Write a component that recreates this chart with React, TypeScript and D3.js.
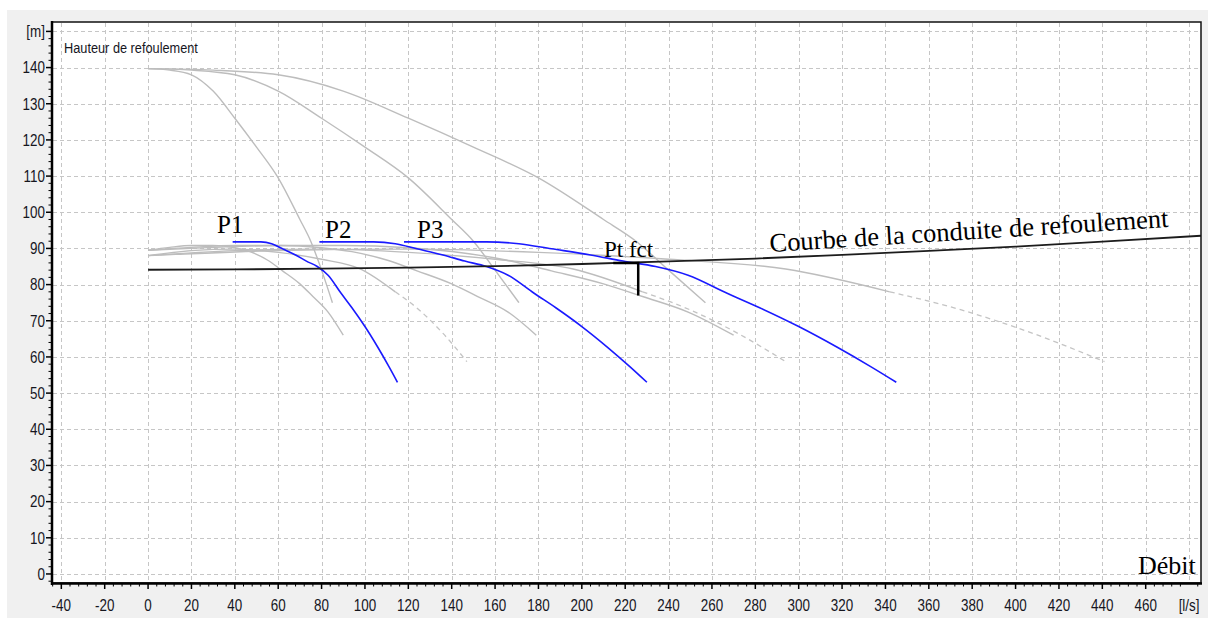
import React, { useEffect, useRef } from 'react';
import * as d3 from 'd3';

// axis ticks (l/s and m)
const xTicks = [-40, -20, 0, 20, 40, 60, 80, 100, 120, 140, 160, 180, 200, 220, 240, 260, 280, 300, 320, 340, 360, 380, 400, 420, 440, 460];
const yTicks = [0, 10, 20, 30, 40, 50, 60, 70, 80, 90, 100, 110, 120, 130, 140];

// grey pump curves [debit, hauteur]
const grayA1 = [[0, 139.7], [10, 139.3], [20, 138], [30, 133.5], [40, 126], [50, 118], [60, 109.5], [70, 98], [75, 92], [80, 84], [85, 75]];
const grayA2 = [[0, 139.7], [20, 139.3], [40, 138], [60, 133.5], [80, 126], [100, 118], [120, 109.5], [140, 98], [150, 92], [160, 84], [171, 75]];
const grayA3 = [[0, 139.7], [30, 139.3], [60, 138], [90, 133.5], [120, 126], [150, 118], [180, 109.5], [210, 98], [225, 92], [240, 84], [257, 75]];
const grayB1 = [[0, 89.5], [10, 90.3], [20, 90.8], [30, 90.8], [40, 90.2], [47, 89.1], [55, 86.8], [62, 83.8], [70, 80.2], [76, 76.7], [83, 72.4], [90, 66]];
const grayB2 = [[0, 89.5], [20, 90.3], [40, 90.8], [60, 90.8], [80, 90.2], [94, 89.1], [110, 86.8], [124, 83.8], [140, 80.2], [152, 76.7], [166, 72.4], [179, 66]];
const grayB3 = [[0, 89.5], [30, 90.3], [60, 90.8], [90, 90.8], [120, 90.2], [141, 89.1], [165, 86.8], [186, 83.8], [210, 80.2], [228, 76.7], [249, 72.4], [270, 66]];
const grayC1 = [[0, 88], [20, 89.4], [40, 89.8], [60, 88.9], [80, 87], [98, 84.3], [114, 78]];
const grayC2 = [[0, 88], [40, 89.4], [80, 89.8], [120, 88.9], [160, 87], [196, 84.3], [228, 78]];
const grayC3 = [[0, 88], [60, 89.4], [120, 89.8], [180, 88.9], [240, 87], [294, 84.3], [342, 78]];
// dashed extensions
const grayC1Ext = [[114, 78], [125, 73], [136, 66.5], [147, 58.7]];
const grayC2Ext = [[228, 78], [250, 73], [272, 66.5], [294, 58.7]];
const grayC3Ext = [[342, 78], [375, 73], [408, 66.5], [441, 58.7]];

// blue curves: 1, 2, 3 pumps
const pump1 = [[39, 91.8], [52, 91.8], [57, 91.3], [62, 89.9], [68, 88.2], [73, 86.5], [78, 85.0], [83, 82.6], [89, 77.6], [94, 73.6], [100, 68.4], [106, 62.6], [111, 57.4], [115, 53.0]];
const pump2 = [[79, 91.8], [104, 91.8], [114, 91.3], [124, 89.9], [136, 88.2], [146, 86.5], [156, 85.0], [166, 82.6], [178, 77.6], [188, 73.6], [200, 68.4], [212, 62.6], [222, 57.4], [230, 53.0]];
const pump3 = [[118, 91.8], [156, 91.8], [171, 91.3], [186, 89.9], [204, 88.2], [219, 86.5], [234, 85.0], [249, 82.6], [267, 77.6], [282, 73.6], [300, 68.4], [318, 62.6], [333, 57.4], [345, 53.0]];

// courbe de la conduite
const conduiteQ = [0, 40, 80, 120, 160, 200, 240, 280, 320, 360, 400, 440, 485.5];
const conduiteH = [84.1, 84.2, 84.4, 84.7, 85.1, 85.7, 86.4, 87.2, 88.2, 89.3, 90.5, 91.9, 93.5];

// point de fonctionnement marker
const ptFctQ = [214.5, 226, 226];
const ptFctH = [86, 86, 77];

const W = 1208;
const H = 618;

function drawChart(node) {
  const svg = d3.select(node);
  svg.selectAll('*').remove();

  const x = d3.scaleLinear().domain([-44.3, 485.5]).range([52, 1201]);
  const y = d3.scaleLinear().domain([-2.5, 152.6]).range([583, 22]);

  svg.append('rect').attr('x', 7).attr('y', 10).attr('width', W - 7).attr('height', H - 10).attr('fill', '#f0f0f0');
  svg.append('rect').attr('x', 52).attr('y', 22).attr('width', 1201 - 52).attr('height', 583 - 22).attr('fill', '#fff');

  // grid
  const grid = svg.append('g').attr('stroke', '#c6c6c6').attr('stroke-width', 1).attr('stroke-dasharray', '4,3');
  grid.selectAll('.gx').data([...xTicks, 480]).enter().append('line')
    .attr('x1', d => Math.round(x(d)) + 0.5).attr('x2', d => Math.round(x(d)) + 0.5)
    .attr('y1', 23).attr('y2', 582);
  grid.selectAll('.gy').data([...yTicks, 150]).enter().append('line')
    .attr('y1', d => Math.round(y(d)) + 0.5).attr('y2', d => Math.round(y(d)) + 0.5)
    .attr('x1', 53).attr('x2', 1200);

  const line = d3.line().x(d => x(d[0])).y(d => y(d[1])).curve(d3.curveMonotoneX);

  const grays = [grayA1, grayA2, grayA3, grayB1, grayB2, grayB3, grayC1, grayC2, grayC3];
  svg.append('g').selectAll('path').data(grays).enter().append('path')
    .attr('d', line).attr('fill', 'none').attr('stroke', '#bdbdbd').attr('stroke-width', 1.4);
  svg.append('g').selectAll('path').data([grayC1Ext, grayC2Ext, grayC3Ext]).enter().append('path')
    .attr('d', line).attr('fill', 'none').attr('stroke', '#c4c4c4').attr('stroke-width', 1.3)
    .attr('stroke-dasharray', '5,4');

  svg.append('g').selectAll('path').data([pump1, pump2, pump3]).enter().append('path')
    .attr('d', line).attr('fill', 'none').attr('stroke', '#1a1aff').attr('stroke-width', 1.6);

  const sysLine = d3.line().x(d => x(d[0])).y(d => y(d[1]));
  svg.append('path')
    .attr('d', sysLine(conduiteQ.map((q, i) => [q, conduiteH[i]])))
    .attr('fill', 'none').attr('stroke', '#1c1c1c').attr('stroke-width', 1.8);

  svg.append('path')
    .attr('d', sysLine(ptFctQ.map((q, i) => [q, ptFctH[i]])))
    .attr('fill', 'none').attr('stroke', '#000').attr('stroke-width', 2.5);

  // axes
  const ax = svg.append('g').attr('stroke', '#000');
  ax.selectAll('.tx').data(xTicks).enter().append('line')
    .attr('x1', d => x(d)).attr('x2', d => x(d)).attr('y1', 583).attr('y2', 589).attr('stroke-width', 1.5);
  const xMinor = d3.range(-44, 485, 4).filter(v => v % 20 !== 0);
  ax.selectAll('.mx').data(xMinor).enter().append('line')
    .attr('x1', d => x(d)).attr('x2', d => x(d)).attr('y1', 583).attr('y2', 586.5).attr('stroke-width', 1);
  ax.selectAll('.ty').data([...yTicks, 150]).enter().append('line')
    .attr('y1', d => y(d)).attr('y2', d => y(d)).attr('x1', 46).attr('x2', 52).attr('stroke-width', 1.5);
  const yMinor = d3.range(-2, 152, 2).filter(v => v % 10 !== 0);
  ax.selectAll('.my').data(yMinor).enter().append('line')
    .attr('y1', d => y(d)).attr('y2', d => y(d)).attr('x1', 48.5).attr('x2', 52).attr('stroke-width', 1);

  svg.append('rect').attr('x', 52).attr('y', 22).attr('width', 1201 - 52).attr('height', 583 - 22)
    .attr('fill', 'none').attr('stroke', '#111').attr('stroke-width', 1.5);
  svg.append('line').attr('x1', 52).attr('x2', 52).attr('y1', 21).attr('y2', 585).attr('stroke', '#000').attr('stroke-width', 2.5);
  svg.append('line').attr('x1', 51).attr('x2', 1202).attr('y1', 583.5).attr('y2', 583.5).attr('stroke', '#000').attr('stroke-width', 2.5);

  // tick labels
  const lab = svg.append('g').attr('font-family', "'Liberation Sans', Arial, sans-serif").attr('font-size', 16).attr('fill', '#16161e');
  lab.selectAll('.lx').data(xTicks).enter().append('text')
    .attr('transform', d => `translate(${x(d)},611) scale(0.84,1)`)
    .attr('text-anchor', 'middle').text(d => d);
  lab.append('text').attr('transform', `translate(${x(480)},611) scale(0.84,1)`).attr('text-anchor', 'middle').text('[l/s]');
  lab.selectAll('.ly').data(yTicks).enter().append('text')
    .attr('transform', d => `translate(45,${y(d) + 5.8}) scale(0.84,1)`)
    .attr('text-anchor', 'end').text(d => d);
  lab.append('text').attr('transform', `translate(45,${y(150) + 5.8}) scale(0.84,1)`).attr('text-anchor', 'end').text('[m]');
  lab.append('text').attr('transform', 'translate(64,53) scale(0.88,1)').attr('font-size', 14.5).text('Hauteur de refoulement');

  // annotations
  const serif = svg.append('g').attr('font-family', "'Liberation Serif', 'Times New Roman', serif").attr('fill', '#000');
  serif.append('text').attr('x', 217).attr('y', 233).attr('font-size', 25).text('P1');
  serif.append('text').attr('x', 325).attr('y', 238).attr('font-size', 25).text('P2');
  serif.append('text').attr('x', 417).attr('y', 238).attr('font-size', 25).text('P3');
  serif.append('text').attr('x', 604).attr('y', 257).attr('font-size', 23).text('Pt fct');
  serif.append('text').attr('transform', 'translate(770,252) rotate(-3.6)').attr('font-size', 26.5).text('Courbe de la conduite de refoulement');
  serif.append('text').attr('x', 1138).attr('y', 574).attr('font-size', 26).text('Débit');
}

const App = () => {
  const ref = useRef(null);
  useEffect(() => {
    drawChart(ref.current);
  }, []);
  return (
    <svg ref={ref} width={W} height={H} style={{ position: 'absolute', left: 0, top: 0 }}></svg>
  );
};

export default App;
